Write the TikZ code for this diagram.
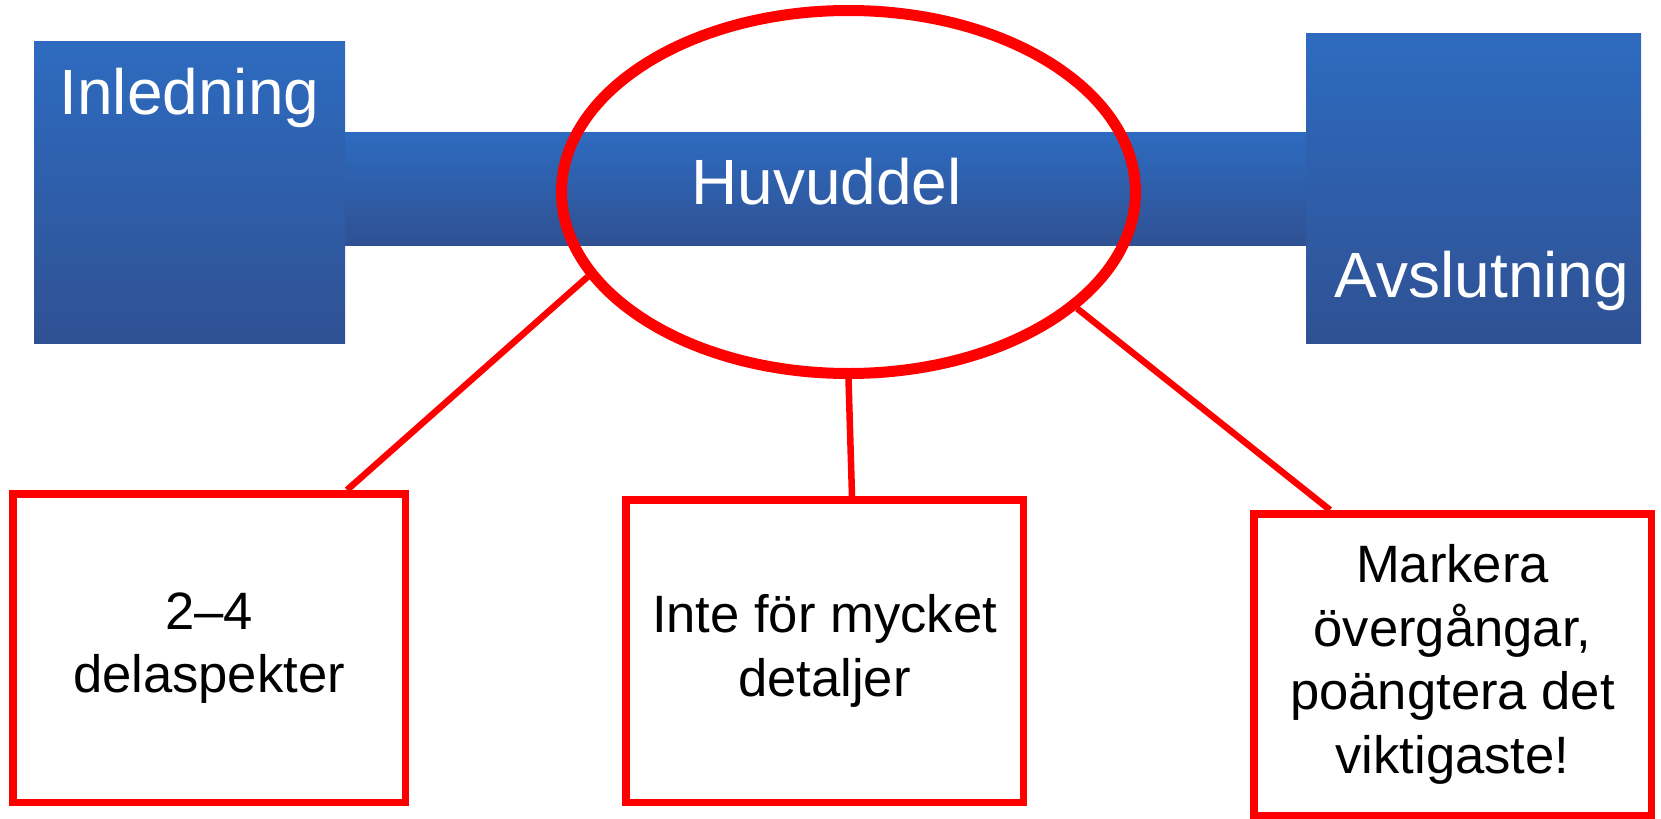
\documentclass[tikz,border=0pt]{standalone}
\usepackage{fontspec}
\setmainfont{Liberation Sans}
\usetikzlibrary{positioning,shapes.geometric}
\definecolor{plan-top}{HTML}{2E6BC0}
\definecolor{plan-bottom}{HTML}{2F5193}
\definecolor{plan-red}{HTML}{FF0000}
\newlength{\basisdisposition}
\setlength{\basisdisposition}{0.5pt}

\begin{document}
\begin{tikzpicture}[x=\basisdisposition, y=-\basisdisposition,
    partblock/.style={inner sep=0, top color=plan-top, bottom color=plan-bottom},
    partlabel/.style={text=white, font=\fontsize{32}{38}\selectfont, inner sep=0, anchor=base},
    notebox/.style={draw=plan-red, line width=7.5\basisdisposition, fill=white, align=center, font=\fontsize{26.3}{31.75}\selectfont, inner sep=0},
    notelink/.style={draw=plan-red, line width=6.5\basisdisposition}]

    \useasboundingbox (0,0) rectangle (1661,819);

    % the three parts of the text
    \draw (189.5,192) 
		node[partblock, minimum width=311\basisdisposition, minimum height=302\basisdisposition] 
			(inledning) {};

    \draw (825.5,188.5) 
		node[partblock, minimum width=961\basisdisposition, minimum height=113\basisdisposition] 
			(huvuddel) {};

    \draw (1473.5,188) 
		node[partblock, minimum width=335\basisdisposition, minimum height=310\basisdisposition] 
			(avslutning) {};

    \draw (189.5,114) node[partlabel] (inledning-text) {Inledning};
    \draw (826.5,204) node[partlabel] (huvuddel-text) {Huvuddel};
    \draw (1482,297) node[partlabel] (avslutning-text) {Avslutning};

    \draw (848.5,192) 
		node[ellipse, draw=plan-red, line width=11\basisdisposition, minimum width=574\basisdisposition, minimum height=363\basisdisposition, inner sep=0] 
			(huvuddel-ring) {};

    % notes on the main part
    \draw (209,648) 
		node[notebox, minimum width=392.5\basisdisposition, minimum height=308.5\basisdisposition] 
			(delaspekter) {2–4\\delaspekter};

    \draw (824.5,651) 
		node[notebox, minimum width=397.5\basisdisposition, minimum height=302.5\basisdisposition] 
			(detaljer) {Inte för mycket\\detaljer};

    \draw (1452.5,664.5) 
		node[notebox, minimum width=397.5\basisdisposition, minimum height=301.5\basisdisposition] 
			(overgangar) {Markera\\övergångar,\\poängtera det\\viktigaste!};

	\draw[notelink] (huvuddel-ring.198) -- ([xshift=138\basisdisposition]delaspekter.north);
	\draw[notelink] (huvuddel-ring.south) -- ([xshift=27.5\basisdisposition]detaljer.north);
	\draw[notelink] (huvuddel-ring.333) -- ([xshift=-122.5\basisdisposition]overgangar.north);
\end{tikzpicture}
\end{document}
